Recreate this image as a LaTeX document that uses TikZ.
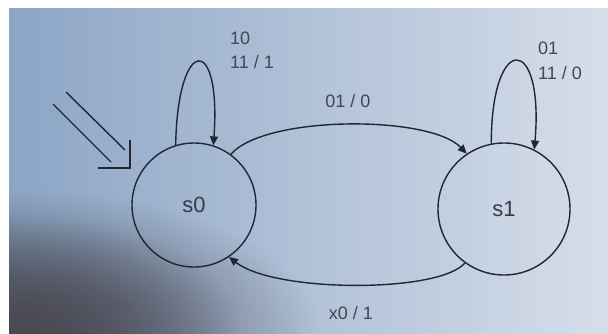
\documentclass[tikz,border=0pt]{standalone}
\usepackage{fontspec}
\setmainfont{Liberation Sans}
\usetikzlibrary{arrows.meta,fadings}
\definecolor{paperleft}{RGB}{140,165,198}
\definecolor{paperright}{RGB}{214,222,234}
\definecolor{shadow}{RGB}{74,74,84}
\definecolor{ink}{RGB}{34,38,48}
\tikzfading[name=corner, inner color=transparent!0, outer color=transparent!100]
\tikzset{
  state/.style={draw=ink, circle, line width=1.4pt, font=\fontsize{22}{22}\selectfont, text=ink!90},
  trans/.style={draw=ink, line width=1.4pt, -{Triangle[length=9pt,width=8pt]}},
  lbl/.style={font=\fontsize{18}{24}\selectfont, text=ink!85, inner sep=0pt}
}
\begin{document}
\begin{tikzpicture}[x=1pt,y=-1pt]
    \useasboundingbox (0,0) rectangle (608,333);
    % paper
    \fill[white] (0,0) rectangle (608,333);
    \shade[left color=paperleft, right color=paperright] (9,8) rectangle (608,333);
    \begin{scope}
        \clip (9,8) rectangle (608,333);
        \fill[shadow, path fading=corner, fit fading=true] (-280,190) rectangle (320,476);
        \fill[shadow, path fading=corner, fit fading=true] (-200,215) rectangle (240,451);
    \end{scope}
    % states
    \node[state, minimum size=124pt] (s0) at (194,205) {s0};
    \node[state, minimum size=132pt] (s1) at (504,209) {s1};
    % reset arrow
    \coordinate (r1) at (66,92);
    \coordinate (r2) at (53,104);
    \coordinate (tip) at (130,168);
    \draw[ink, line width=1.4pt] (r1) -- (125,150);
    \draw[ink, line width=1.4pt] (r2) -- (111,162);
    \draw[ink, line width=1.4pt] (130,140) -- (tip) -- (98,168);
    % self loops
    \draw[trans] (s0.107) .. controls +(2,-110) and +(8,-112) .. (s0.72);
    \draw[trans] (s1.101) .. controls +(0,-112) and +(10,-116) .. (s1.63);
    % s0 <-> s1
    \draw[trans] (s0.54) .. controls (265,115) and (430,115) .. (s1.124);
    \draw[trans] (s1.234) .. controls (440,293) and (275,293) .. (s0.304);
    % labels
    \node[lbl, anchor=west] (l00) at (230,38) {10};
    \node[lbl, anchor=west] (l01) at (230,62) {11 / 1};
    \node[lbl, anchor=west] (l10) at (538,48) {01};
    \node[lbl, anchor=west] (l11) at (538,73) {11 / 0};
    \node[lbl] (lup) at (348,101) {01 / 0};
    \node[lbl] (ldn) at (351,313) {x0 / 1};
\end{tikzpicture}
\end{document}
